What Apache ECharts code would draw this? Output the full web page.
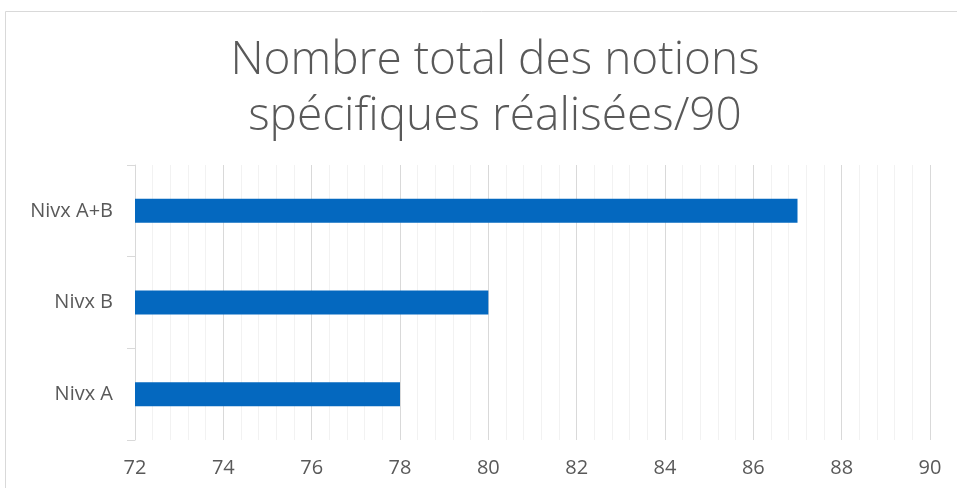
<!DOCTYPE html>
<html>
<head>
<meta charset="utf-8">
<script src="https://cdn.jsdelivr.net/npm/echarts@6/dist/echarts.min.js"></script>
<style>
  html, body { margin: 0; padding: 0; background: #fff; }
  #chart { width: 957px; height: 488px; }
</style>
</head>
<body>
<div id="chart"></div>
<script>
// data
var titleLines = ['Nombre total des notions', 'spécifiques réalisées/90'];
var categories = ['Nivx A', 'Nivx B', 'Nivx A+B'];
var values = [78, 80, 87];
var axisMin = 72;
var axisMax = 90;
var axisStep = 2;

var myChart = echarts.init(document.getElementById('chart'));
var option = {
  animation: false,
  backgroundColor: '#fff',
  title: {
    text: titleLines.join('\n'),
    left: 490,
    textAlign: 'center',
    top: 28,
    textStyle: {
      fontFamily: 'Open Sans',
      fontWeight: 300,
      fontSize: 46,
      lineHeight: 56,
      color: '#595959'
    }
  },
  graphic: [{
    type: 'rect',
    shape: { x: 5.5, y: 11.5, width: 1000, height: 600 },
    style: { fill: 'none', stroke: '#d9d9d9', lineWidth: 1 },
    silent: true
  }],
  grid: {
    left: 135,
    right: 27,
    top: 165,
    bottom: 48
  },
  xAxis: {
    type: 'value',
    min: axisMin,
    max: axisMax,
    interval: axisStep,
    axisLine: { show: false },
    axisTick: { show: false },
    axisLabel: {
      color: '#595959',
      fontSize: 20,
      fontFamily: 'Open Sans',
      margin: 18
    },
    splitLine: { show: true, lineStyle: { color: '#d9d9d9', width: 1 } },
    minorTick: { show: false, splitNumber: 5 },
    minorSplitLine: { show: true, lineStyle: { color: '#f2f2f2', width: 1 } }
  },
  yAxis: {
    type: 'category',
    data: categories,
    axisLine: { show: true, lineStyle: { color: '#d9d9d9', width: 1 } },
    axisTick: { show: true, length: 8, lineStyle: { color: '#d9d9d9' } },
    axisLabel: {
      color: '#595959',
      fontSize: 20,
      fontFamily: 'Open Sans',
      margin: 22
    },
    splitLine: { show: false }
  },
  series: [{
    type: 'bar',
    data: values,
    barWidth: 24,
    itemStyle: { color: '#0468BF' }
  }]
};
option && myChart.setOption(option);
</script>
</body>
</html>
